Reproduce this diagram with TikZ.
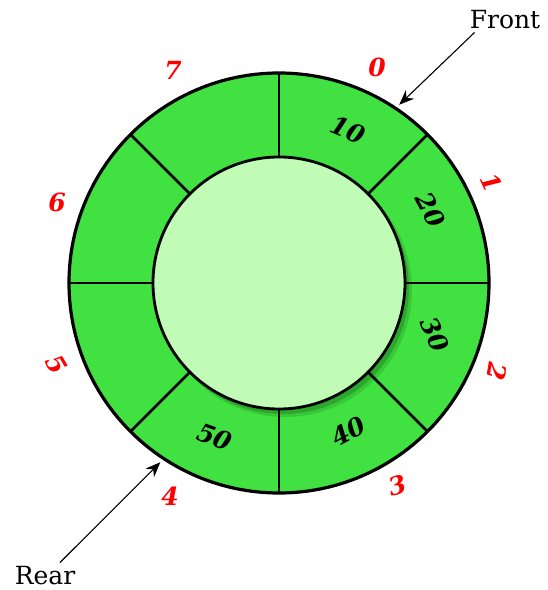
\documentclass[tikz,border=0pt]{standalone}
\usepackage{fontspec}
\setmainfont{DejaVu Serif}
\usetikzlibrary{arrows.meta,calc}
\definecolor{ringgreen}{RGB}{65,225,65}
\definecolor{hubgreen}{RGB}{192,252,182}
\definecolor{shadowgreen}{RGB}{35,140,35}
\definecolor{idxred}{RGB}{255,0,0}
\begin{document}
\begin{tikzpicture}[x=1pt,y=1pt,
  val/.style={font=\fontsize{25}{25}\selectfont\bfseries\itshape, inner sep=0pt},
  idx/.style={text=idxred, font=\fontsize{25}{25}\selectfont\bfseries\itshape, inner sep=0pt},
  lbl/.style={font=\fontsize{25}{25}\selectfont, inner sep=0pt},
  pointer/.style={-{Stealth[length=15pt,width=12pt,inset=5pt]}, line width=1.1pt},
  ringline/.style={line width=2.8pt}]
\useasboundingbox (0,0) rectangle (548,590);
\coordinate (c) at (279,307);
% ring
\fill[ringgreen] (c) circle (210);
% hub shadow
\fill[shadowgreen, opacity=0.3] ($(c)+(6,-7)$) circle (127);
\fill[shadowgreen, opacity=0.55] ($(c)+(4,-5)$) circle (126);
\fill[hubgreen] (c) circle (126);
\draw[ringline] (c) circle (126);
\foreach \a in {0,45,...,315}
  \draw[ringline] ([shift={(c)}]\a:126) -- ([shift={(c)}]\a:210);
\draw[line width=3.2pt] (c) circle (210);
% values
\node[val, rotate=-22.5] (v0) at ([shift={(c)}]65.7:168) {10};
\node[val, rotate=-62] (v1) at ([shift={(c)}]25.8:168) {20};
\node[val, rotate=-65] (v2) at ([shift={(c)}]-18.4:164) {30};
\node[val, rotate=28] (v3) at ([shift={(c)}]-65:164) {40};
\node[val, rotate=-20] (v4) at ([shift={(c)}]-112.6:167) {50};
% indices
\node[idx] (i0) at (377,523) {0};
\node[idx, rotate=-65] (i1) at (492,408) {1};
\node[idx, rotate=-100] (i2) at (497,218) {2};
\node[idx, rotate=15] (i3) at (398,105) {3};
\node[idx] (i4) at (170,94) {4};
\node[idx, rotate=-60] (i5) at (57,225) {5};
\node[idx] (i6) at (57,388) {6};
\node[idx] (i7) at (173,520) {7};
% pointers
\node[lbl] (front) at (505,570) {Front};
\node[lbl] (rear) at (45,14) {Rear};
\coordinate (fronttip) at ([shift={(c)}]56:215);
\coordinate (reartip) at ([shift={(c)}]-123.5:215);
\draw[pointer] ($(front.south west)+(5,-3)$) -- (fronttip);
\draw[pointer] ($(rear.north)+(15,4)$) -- (reartip);
\end{tikzpicture}
\end{document}
